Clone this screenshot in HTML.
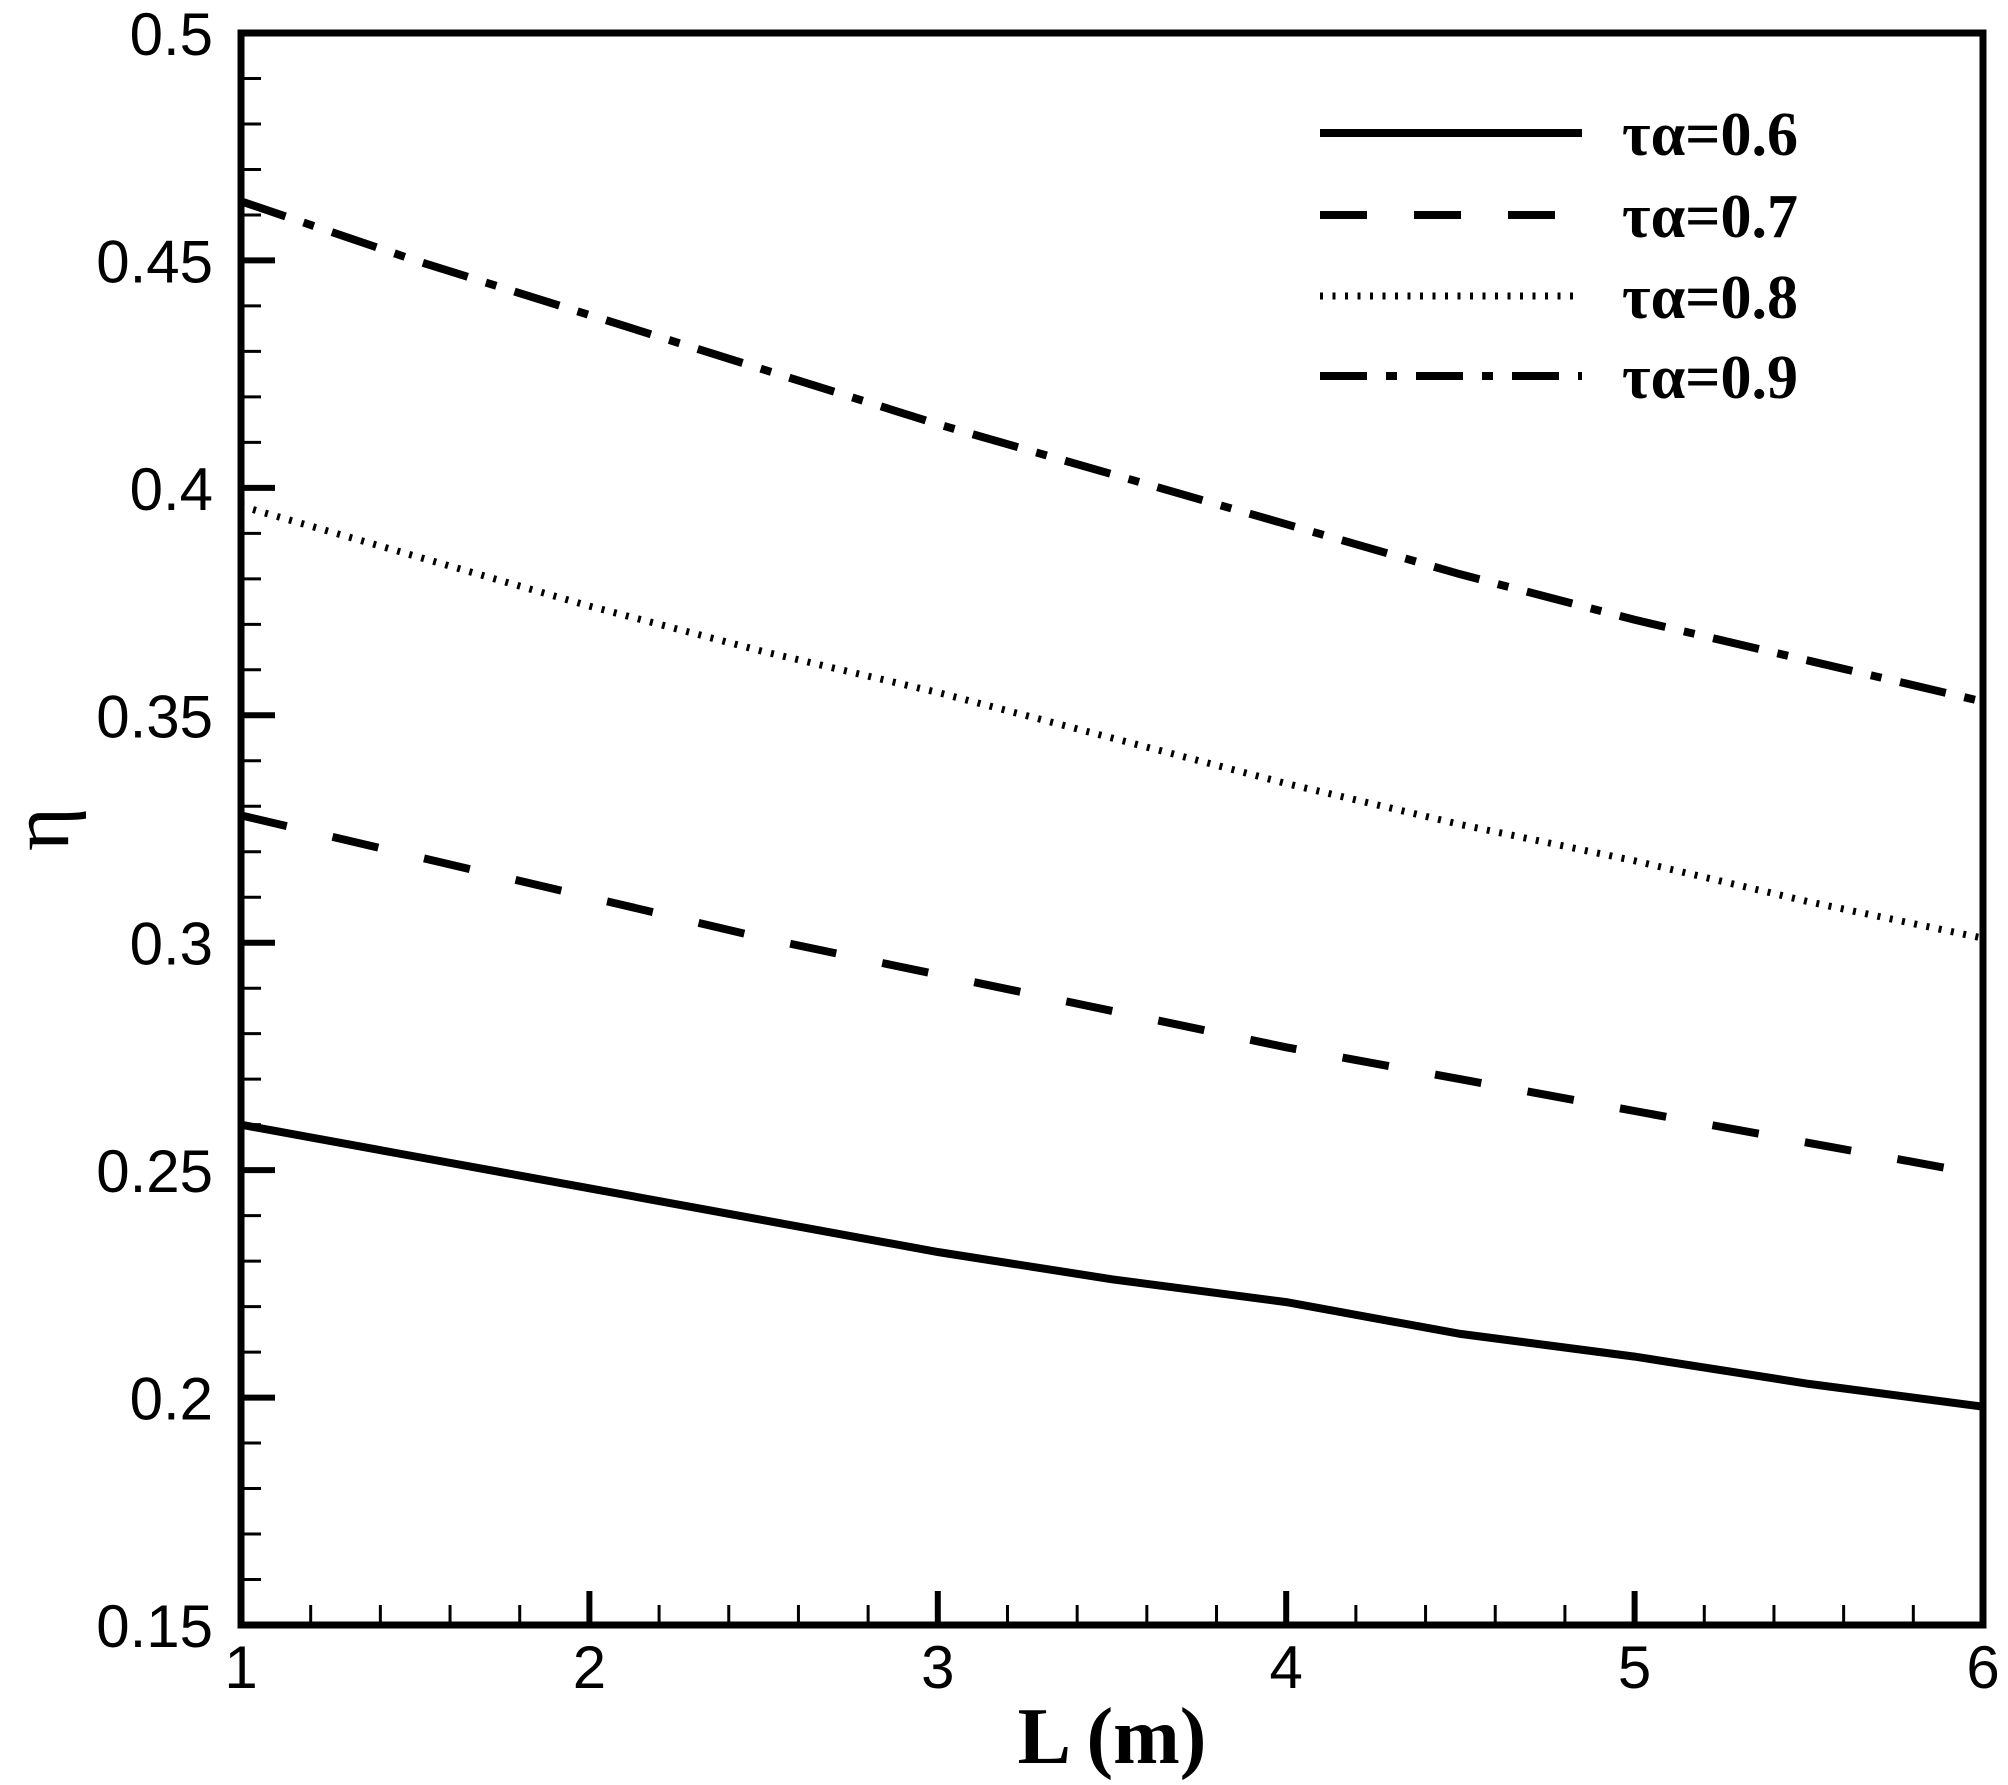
<!DOCTYPE html>
<html><head><meta charset="utf-8"><style>
html,body{margin:0;padding:0;background:#fff;}
svg{display:block;}
.tick{font-family:"Liberation Sans",sans-serif;font-size:60px;fill:#000;}
.leg{font-family:"Liberation Serif",serif;font-weight:bold;font-size:62px;fill:#000;}
</style></head><body>
<svg id="chart" width="2008" height="1785" viewBox="0 0 2008 1785" xmlns="http://www.w3.org/2000/svg">
<g id="grid"></g>
<g id="series"></g>
<rect x="241" y="33" width="1742" height="1592" fill="none" stroke="#000" stroke-width="7"/>
<text x="1112" y="1763" text-anchor="middle" style="font-family:'Liberation Serif',serif;font-weight:bold;font-size:80px;">L (m)</text>
<text transform="translate(68,829) rotate(-90)" text-anchor="middle" style="font-family:'Liberation Serif',serif;font-size:84px;">η</text>
<g id="legend"></g>
</svg>
<script>
const xValues=[1,1.5,2,2.5,3,3.5,4,4.5,5,5.5,6];
const seriesLabels=["τα=0.6","τα=0.7","τα=0.8","τα=0.9"];
const s06=[0.260,0.253,0.246,0.239,0.232,0.226,0.221,0.214,0.209,0.203,0.198];
const s07=[0.328,0.319,0.310,0.301,0.293,0.285,0.277,0.270,0.263,0.256,0.249];
const s08=[0.396,0.385,0.374,0.364,0.355,0.345,0.335,0.326,0.318,0.309,0.301];
const s09=[0.463,0.450,0.438,0.426,0.414,0.403,0.392,0.381,0.371,0.362,0.353];
const xTicks=[1,2,3,4,5,6];
const yTicks=[0.15,0.2,0.25,0.3,0.35,0.4,0.45,0.5];
const yTickLabels=["0.15","0.2","0.25","0.3","0.35","0.4","0.45","0.5"];

const NS="http://www.w3.org/2000/svg";
const X0=241,X1=1983,Y0=1625,Y1=33;
function sx(v){return X0+(v-1)/(6-1)*(X1-X0);}
function sy(v){return Y0-(v-0.15)/(0.5-0.15)*(Y0-Y1);}
function mk(tag,attrs,parent){const e=document.createElementNS(NS,tag);for(const k in attrs)e.setAttribute(k,attrs[k]);parent.appendChild(e);return e;}
const grid=document.getElementById('grid');
// x ticks
for(let i=0;i<xTicks.length;i++){
  const x=sx(xTicks[i]);
  const t=mk('line',{x1:x,x2:x,y1:Y0,y2:Y0-34,stroke:'#000','stroke-width':6},grid);
  
  
  const l=mk('text',{x:x,y:1688,'text-anchor':'middle','class':'tick'},grid);
  
  
  l.textContent=String(xTicks[i]);
  if(i<xTicks.length-1){
    for(let k=1;k<5;k++){
      const xm=sx(xTicks[i]+k*0.2);
      const m=mk('line',{x1:xm,x2:xm,y1:Y0,y2:Y0-20,stroke:'#000','stroke-width':3},grid);
      
      
    }
  }
}
// y ticks
for(let i=0;i<yTicks.length;i++){
  const y=sy(yTicks[i]);
  const t=mk('line',{x1:X0,x2:X0+34,y1:y,y2:y,stroke:'#000','stroke-width':6},grid);
  
  
  const l=mk('text',{x:213,y:y+22,'text-anchor':'end','class':'tick'},grid);
  
  
  l.textContent=yTickLabels[i];
  if(i<yTicks.length-1){
    for(let k=1;k<5;k++){
      const ym=sy(yTicks[i]+k*0.01);
      const m=mk('line',{x1:X0,x2:X0+20,y1:ym,y2:ym,stroke:'#000','stroke-width':3},grid);
      
      
    }
  }
}
const styles=[
  {w:8,d:'none'},
  {w:8,d:'47 47'},
  {w:7,d:'3 9.5'},
  {w:8,d:'47 19 11 19'}
];
const data=[s06,s07,s08,s09];
const names=['line-ta-0.6','line-ta-0.7','line-ta-0.8','line-ta-0.9'];
const series=document.getElementById('series');
const legend=document.getElementById('legend');
const legY=[133,215,296,376];
for(let s=0;s<data.length;s++){
  const pts=xValues.map((x,i)=>sx(x).toFixed(1)+','+sy(data[s][i]).toFixed(1)).join(' ');
  const p=mk('polyline',{points:pts,fill:'none',stroke:'#000','stroke-width':styles[s].w,'stroke-dasharray':styles[s].d},series);
  
  
  const ll=mk('line',{x1:1320,x2:1582,y1:legY[s],y2:legY[s],stroke:'#000','stroke-width':styles[s].w,'stroke-dasharray':styles[s].d},legend);
  
  
  const lt=mk('text',{x:1622,y:legY[s]+22,'class':'leg'},legend);
  
  
  lt.textContent=seriesLabels[s];
}
</script>
</body></html>
